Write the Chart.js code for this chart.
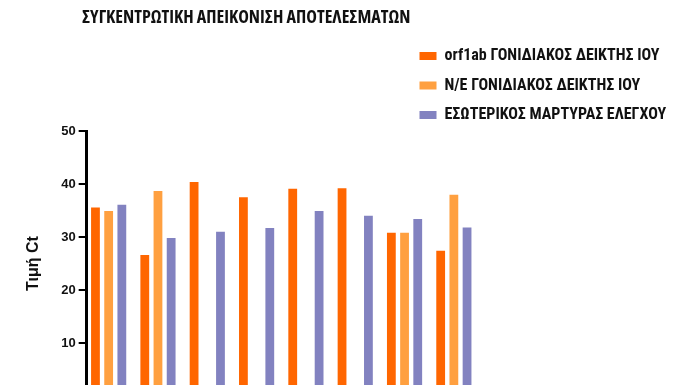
<!DOCTYPE html>
<html>
<head>
<meta charset='utf-8'>
<title>Τιμή Ct</title>
<script src="https://cdn.jsdelivr.net/npm/chart.js@4.4.1/dist/chart.umd.min.js"></script>
<style>
  html, body { margin: 0; padding: 0; overflow: hidden; background: #fff; }
</style>
</head>
<body>
<canvas id="grafico" width="696" height="430"></canvas>
<script>
// ---- datos
var deigmata = ['1', '2', '3', '4', '5', '6', '7', '8'];
var orf1ab = [35.6, 26.6, 40.4, 37.5, 39.1, 39.2, 30.8, 27.4];
var neGene = [34.9, 38.7, null, null, null, null, 30.8, 38.0];
var esoterikos = [36.1, 29.8, 31.0, 31.7, 34.9, 34.0, 33.4, 31.8];
var yMin = 0, yMax = 50, yStep = 10;
var xMin = 0.554, xMax = 8.53;

var fuente = "'Liberation Sans', Arial, sans-serif";
var fuenteEstrecha = "'Roboto Condensed', 'Liberation Sans', sans-serif";

// mueve titulo y leyenda a su sitio
var moverBloques = {
    id: 'moverBloques',
    afterLayout: function (chart) {
        var t = chart.titleBlock;
        t.left = 82; t.right = 690;
        var l = chart.legend;
        l.left = 406; l.right = 696;
        l.top += 2; l.bottom += 2;
    }
};

var ctx = document.getElementById('grafico').getContext('2d');
var myChart = new Chart(ctx, {
    type: 'bar',
    data: {
        labels: deigmata,
        datasets: [{
            label: 'orf1ab ΓΟΝΙΔΙΑΚΟΣ ΔΕΙΚΤΗΣ ΙΟΥ',
            data: orf1ab,
            backgroundColor: '#ff6600',
            borderWidth: 0
        },
        {
            label: 'Ν/Ε ΓΟΝΙΔΙΑΚΟΣ ΔΕΙΚΤΗΣ ΙΟΥ',
            data: neGene,
            backgroundColor: '#ffa040',
            borderWidth: 0
        },
        {
            label: 'ΕΣΩΤΕΡΙΚΟΣ ΜΑΡΤΥΡΑΣ ΕΛΕΓΧΟΥ',
            data: esoterikos,
            backgroundColor: '#8282c0',
            borderWidth: 0
        }]
    },
    options: {
        responsive: false,
        animation: false,
        barPercentage: 0.667,
        categoryPercentage: 0.822,
        layout: { padding: { left: 20, right: 216, top: 0, bottom: 26 } },
        plugins: {
            title: {
                display: true,
                text: 'ΣΥΓΚΕΝΤΡΩΤΙΚΗ ΑΠΕΙΚΟΝΙΣΗ ΑΠΟΤΕΛΕΣΜΑΤΩΝ',
                align: 'start',
                color: '#111',
                font: { family: "'Open Sans', sans-serif", size: 18, weight: 'bold condensed' },
                padding: { top: 7, bottom: 4 }
            },
            legend: {
                position: 'top',
                align: 'start',
                fullSize: false,
                labels: {
                    boxWidth: 17,
                    boxHeight: 8,
                    padding: 13.5,
                    color: '#111',
                    font: { family: fuenteEstrecha, size: 16, weight: 'bold' }
                }
            },
            tooltip: { enabled: false }
        },
        scales: {
            x: {
                type: 'linear',
                offset: false,
                bounds: 'data',
                min: xMin,
                max: xMax,
                afterBuildTicks: function (scale) { scale.min = xMin; scale.max = xMax; },
                ticks: { display: false },
                grid: { display: false },
                border: { display: true, color: '#000', width: 3 }
            },
            y: {
                min: yMin,
                max: yMax,
                ticks: { stepSize: yStep, color: '#111', padding: 3, font: { family: fuente, size: 13, weight: 'bold' } },
                grid: { display: true, drawOnChartArea: false, drawTicks: true, tickLength: 8, color: '#000', lineWidth: 2 },
                border: { display: true, color: '#000', width: 3 },
                title: {
                    display: true,
                    text: 'Τιμή Ct',
                    color: '#111',
                    font: { family: fuente, size: 16, weight: 'bold' },
                    padding: { top: 4, bottom: 15 }
                }
            }
        }
    },
    plugins: [moverBloques]
});
</script>
</body>
</html>
